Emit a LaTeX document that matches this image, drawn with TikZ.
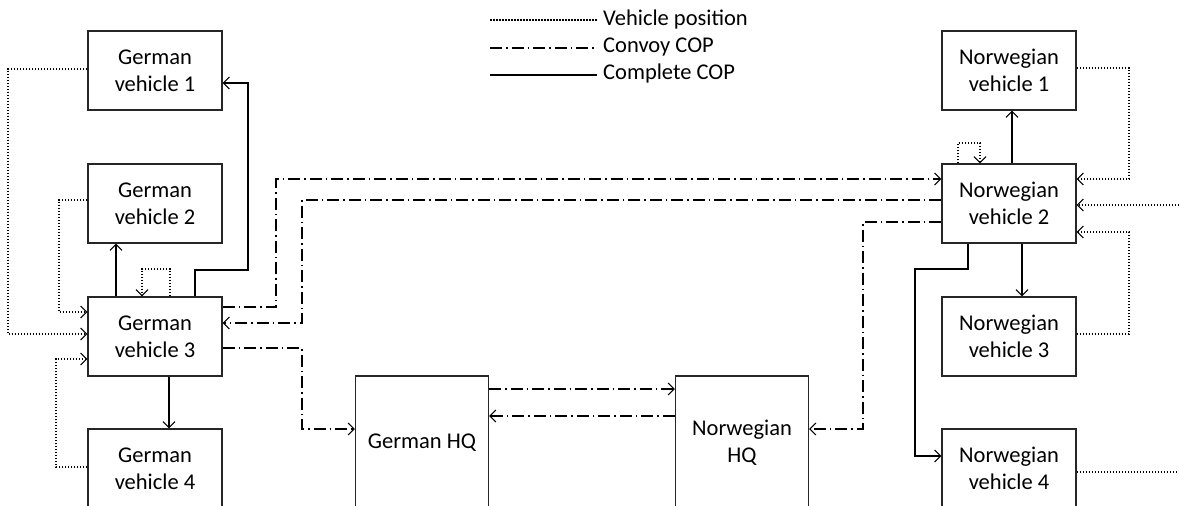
\documentclass[tikz,border=0pt]{standalone}
\usepackage{fontspec}
\setmainfont{Carlito}
\usetikzlibrary{arrows.meta}

\tikzset{
  box/.style={draw=black!85, line width=1.3pt, minimum width=134pt, minimum height=79pt,
    inner sep=0pt, align=center, font=\fontsize{22.5}{27}\selectfont},
  hqbox/.style={box, minimum width=133pt, minimum height=134pt},
  tip/.style={-{Straight Barb[length=6pt,width=12pt,line width=1.1pt]}},
  posline/.style={line width=1.2pt, dash pattern=on 1.5pt off 1.5pt},
  convoy/.style={line width=1.1pt, dash pattern=on 12pt off 4pt on 1.5pt off 4pt},
  complete/.style={line width=1.1pt},
  legendtext/.style={anchor=west, inner sep=0pt, font=\fontsize{22.5}{27}\selectfont}
}

\begin{document}
\begin{tikzpicture}[x=1pt, y=-1pt]
\useasboundingbox (0,0) rectangle (1179,506);
\clip (0,0) rectangle (1179,506);

% legend
\coordinate (l1a) at (490,20);  \coordinate (l1b) at (597,20);
\coordinate (l2a) at (490,48);  \coordinate (l2b) at (597,48);
\coordinate (l3a) at (490,75);  \coordinate (l3b) at (597,75);
\draw[posline] (l1a) -- (l1b);
\draw[convoy] (l2a) -- (l2b);
\draw[complete] (l3a) -- (l3b);
\node[legendtext] (t1) at (603,20) {Vehicle position};
\node[legendtext] (t2) at (603,47) {Convoy COP};
\node[legendtext] (t3) at (603,74) {Complete COP};

% German vehicles
\node[box] (gv1) at (155,70.5)  {German\\vehicle 1};
\node[box] (gv2) at (155,203.5) {German\\vehicle 2};
\node[box] (gv3) at (155,336.5) {German\\vehicle 3};
\node[box] (gv4) at (155,468.5) {German\\vehicle 4};

% Norwegian vehicles
\node[box] (nv1) at (1009,70.5)  {Norwegian\\vehicle 1};
\node[box] (nv2) at (1009,203.5) {Norwegian\\vehicle 2};
\node[box] (nv3) at (1009,336.5) {Norwegian\\vehicle 3};
\node[box] (nv4) at (1009,468.5) {Norwegian\\vehicle 4};

% headquarters
\node[hqbox] (ghq) at (422,443) {German HQ};
\node[hqbox] (nhq) at (742,443) {Norwegian\\HQ};

% free ends at the right border
\coordinate (ein) at (1179,205);
\coordinate (eout) at (1179,472);

% complete COP, German side
\draw[complete,tip] ([xshift=-39]gv3.north) -- ([xshift=-39]gv2.south);
\draw[complete,tip] ([xshift=40]gv3.north) |- (248,270) |- ([yshift=-12.5]gv1.east);
\draw[complete,tip] ([xshift=14]gv3.south) -- ([xshift=14]gv4.north);

% vehicle positions, German side
\draw[posline,tip] ([xshift=15]gv3.north) |- (142,269) -- ([xshift=-13]gv3.north);
\draw[posline,tip] ([yshift=1.5]gv1.west) -| (8,334) -- ([yshift=2.5]gv3.west);
\draw[posline,tip] ([yshift=3.5]gv2.west) -| (59,312) -- ([yshift=24.5]gv3.west);
\draw[posline,tip] ([yshift=1.5]gv4.west) -| (56,359) -- ([yshift=-22.5]gv3.west);

% convoy COP
\draw[convoy,tip] ([yshift=29.5]gv3.east) -| (276,179) -- ([yshift=24.5]nv2.west);
\draw[convoy,tip] ([yshift=3.5]nv2.west) -| (302,323) -- ([yshift=13.5]gv3.east);
\draw[convoy,tip] ([yshift=-11.5]gv3.east) -| (302,429) -- ([yshift=14]ghq.west);
\draw[convoy,tip] ([yshift=54]ghq.east) -- ([yshift=54]nhq.west);
\draw[convoy,tip] ([yshift=27]nhq.west) -- ([yshift=27]ghq.east);
\draw[convoy,tip] ([yshift=-18.5]nv2.west) -| (863,429) -- ([yshift=14]nhq.east);

% complete COP, Norwegian side
\draw[complete,tip] ([xshift=3]nv2.north) -- ([xshift=3]nv1.south);
\draw[complete,tip] ([xshift=13]nv2.south) -- ([xshift=13]nv3.north);
\draw[complete,tip] ([xshift=-41]nv2.south) |- (915,269) |- ([yshift=12.5]nv4.west);

% vehicle positions, Norwegian side
\draw[posline,tip] ([xshift=-51]nv2.north) |- (980,143) -- ([xshift=-29]nv2.north);
\draw[posline,tip] ([yshift=2.5]nv1.east) -| (1129,179) -- ([yshift=24.5]nv2.east);
\draw[posline,tip] (ein) -- ([yshift=-1.5]nv2.east);
\draw[posline,tip] ([yshift=2.5]nv3.east) -| (1129,232) -- ([yshift=-28.5]nv2.east);
\draw[posline] ([yshift=-3.5]nv4.east) -- (eout);
\end{tikzpicture}
\end{document}
